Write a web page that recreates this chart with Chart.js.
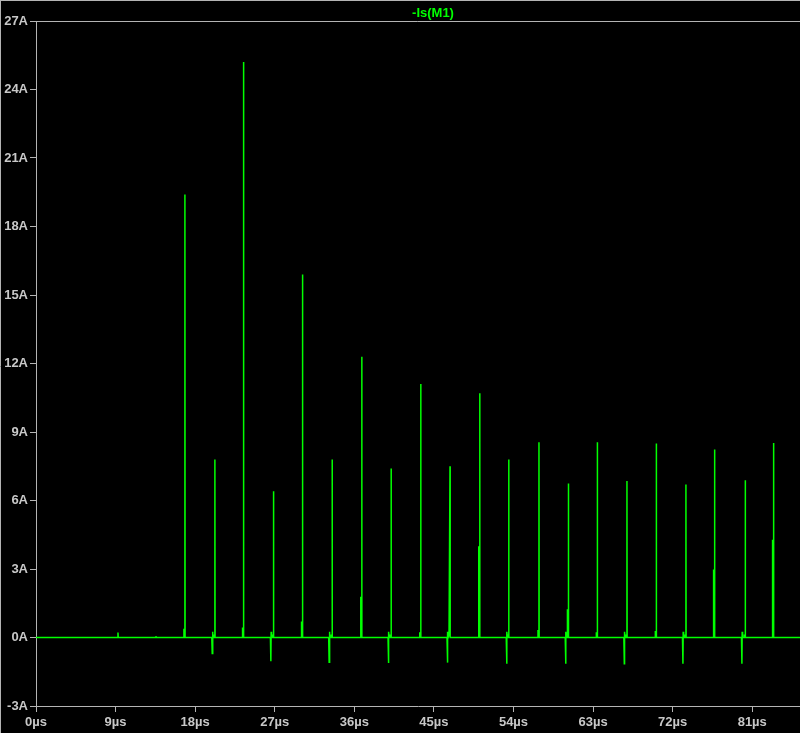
<!DOCTYPE html>
<html>
<head>
<meta charset="utf-8">
<script src="https://cdn.jsdelivr.net/npm/chart.js@4"></script>
<style>
  html, body { margin: 0; padding: 0; background: #000; }
  #wrap { width: 800px; height: 733px; position: relative; }
</style>
</head>
<body>
<div id="wrap"><canvas id="c" width="800" height="733"></canvas></div>
<script>
// ---- data ----
const traceName = "-Is(M1)";
const timeTicksUs = [0, 9, 18, 27, 36, 45, 54, 63, 72, 81];
const currentTicksA = [-3, 0, 3, 6, 9, 12, 15, 18, 21, 24, 27];
const simStartUs = 0;
const simEndUs = 86.4;

const spikeTimesUs = [16.84, 20.23, 23.47, 26.86, 30.14, 33.49, 36.84, 40.16, 43.51, 46.82, 50.18,
                      53.46, 56.88, 60.21, 63.48, 66.83, 70.15, 73.50, 76.74, 80.21, 83.41];
const spikePeaksA = [19.4, 7.8, 25.2, 6.4, 15.9, 7.8, 12.3, 7.4, 11.1, 7.5, 10.7,
                     7.8, 8.55, 6.75, 8.55, 6.85, 8.5, 6.7, 8.23, 6.89, 8.52];
const spikeShouldersA = [0.35, 0.1, 0.4, 0.1, 0.67, 0.1, 1.75, 0.1, 0.2, 0.1, 3.96,
                         0.1, 0.3, 1.2, 0.2, 0.1, 0.25, 0.1, 2.94, 0.1, 4.25];

const dipTimesUs = [19.93, 26.56, 33.15, 39.86, 46.53, 53.23, 59.90, 66.53, 73.16, 79.83];
const dipValuesA = [-0.7, -1.04, -1.08, -1.12, -1.1, -1.15, -1.15, -1.15, -1.15, -1.15];

const blipTimesUs = [9.27, 13.56];
const blipValuesA = [0.22, 0.06];

// ---- build the waveform vertices from the values above ----
const pts = [{x: simStartUs, y: 0}];
spikeTimesUs.forEach((t, i) => {
  pts.push({x: t - 0.12, y: 0});
  pts.push({x: t - 0.11, y: spikeShouldersA[i]});
  pts.push({x: t - 0.01, y: spikeShouldersA[i]});
  pts.push({x: t, y: spikePeaksA[i]});
  pts.push({x: t + 0.02, y: 0});
});
dipTimesUs.forEach((t, i) => {
  pts.push({x: t - 0.05, y: 0});
  pts.push({x: t, y: dipValuesA[i]});
  pts.push({x: t + 0.03, y: 0.25});
  pts.push({x: t + 0.08, y: 0});
});
blipTimesUs.forEach((t, i) => {
  pts.push({x: t - 0.03, y: 0});
  pts.push({x: t, y: blipValuesA[i]});
  pts.push({x: t + 0.03, y: 0});
});
pts.push({x: simEndUs, y: 0});
pts.sort((a, b) => a.x - b.x);

const AXIS = '#b4b4b4';
const TEXT = '#c8c8c8';
const GREEN = '#00ff00';
const FONT = '"Liberation Sans", Arial, sans-serif';

const framePlugin = {
  id: 'frame',
  afterDraw(chart) {
    const ctx = chart.ctx, a = chart.chartArea;
    ctx.save();
    ctx.strokeStyle = AXIS;
    ctx.lineWidth = 1;
    ctx.beginPath();
    ctx.moveTo(0, 0.5); ctx.lineTo(chart.width, 0.5);
    ctx.moveTo(0.5, 0); ctx.lineTo(0.5, chart.height);
    ctx.moveTo(Math.round(a.left) - 0.5, Math.round(a.top) + 0.5);
    ctx.lineTo(chart.width, Math.round(a.top) + 0.5);
    ctx.stroke();
    ctx.fillStyle = GREEN;
    ctx.font = 'bold 13px ' + FONT;
    ctx.textAlign = 'center';
    ctx.textBaseline = 'middle';
    ctx.fillText(traceName, 433, 13);
    ctx.restore();
  }
};

new Chart(document.getElementById('c'), {
  type: 'line',
  data: {
    datasets: [{
      label: traceName,
      data: pts,
      borderColor: GREEN,
      borderWidth: 1.5,
      pointRadius: 0,
      tension: 0,
      fill: false
    }]
  },
  options: {
    responsive: false,
    animation: false,
    events: [],
    layout: { padding: { top: 21, right: 0, left: 0, bottom: 0 } },
    plugins: { legend: { display: false }, title: { display: false }, tooltip: { enabled: false } },
    scales: {
      x: {
        type: 'linear',
        min: simStartUs,
        max: simEndUs,
        afterFit(s) { s.height = 27; },
        afterBuildTicks(s) { s.ticks = timeTicksUs.map(v => ({value: v})); },
        grid: { drawOnChartArea: false, drawTicks: true, tickLength: 6, color: AXIS, tickColor: AXIS },
        border: { display: true, color: AXIS, width: 1 },
        ticks: {
          color: TEXT,
          font: { family: FONT, size: 13, weight: 'bold' },
          padding: 3,
          maxRotation: 0,
          autoSkip: false,
          callback: v => v + 'µs'
        }
      },
      y: {
        type: 'linear',
        min: currentTicksA[0],
        max: currentTicksA[currentTicksA.length - 1],
        afterFit(s) { s.width = 36; },
        afterBuildTicks(s) { s.ticks = currentTicksA.map(v => ({value: v})); },
        grid: { drawOnChartArea: false, drawTicks: true, tickLength: 6, color: AXIS, tickColor: AXIS },
        border: { display: true, color: AXIS, width: 1 },
        ticks: {
          color: TEXT,
          font: { family: FONT, size: 13, weight: 'bold' },
          padding: 2,
          autoSkip: false,
          callback: v => v + 'A'
        }
      }
    }
  },
  plugins: [framePlugin]
});
</script>
</body>
</html>
